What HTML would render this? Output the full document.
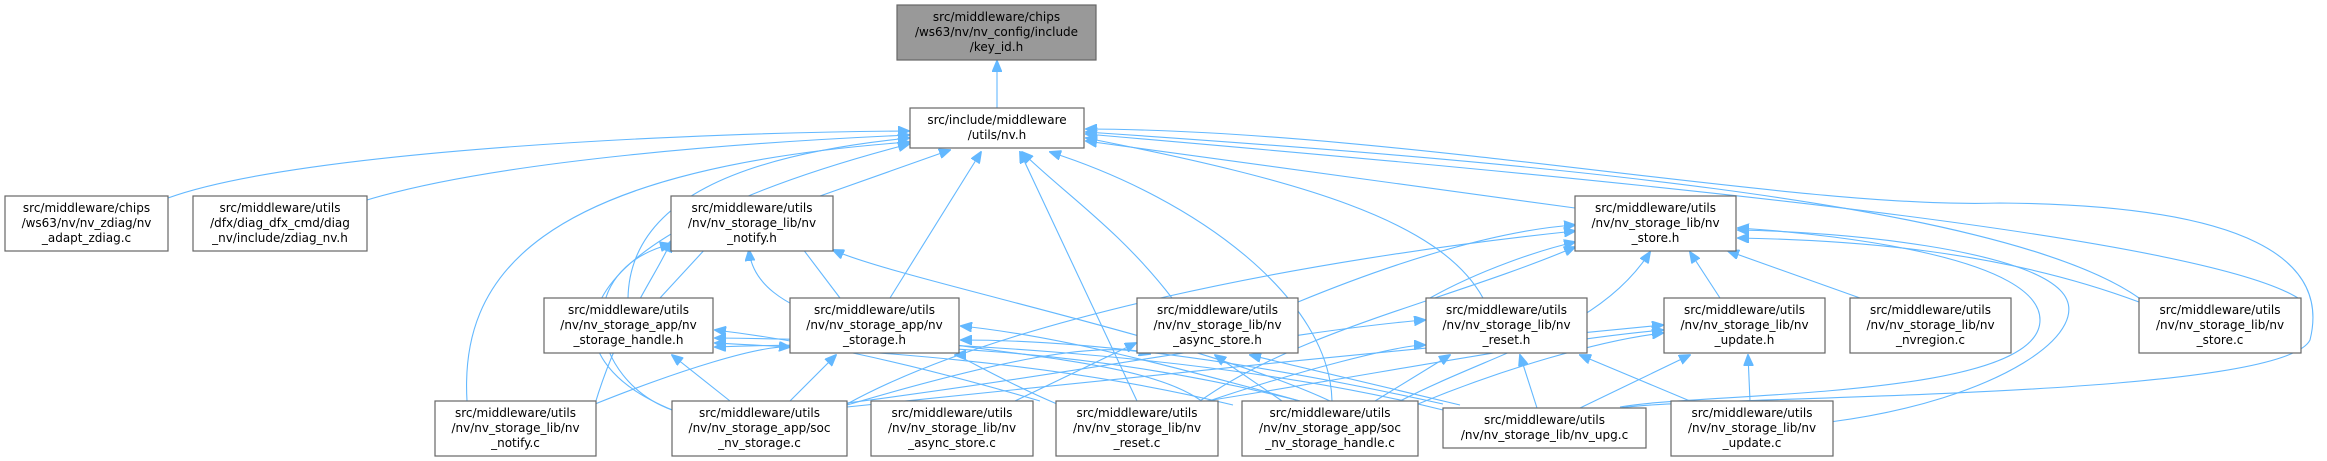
<!DOCTYPE html>
<html><head><meta charset="utf-8"><style>
html,body{margin:0;padding:0;background:#fff}
svg{display:block}
text{font-family:"DejaVu Sans","Liberation Sans",sans-serif;font-size:12px;fill:#000}
.n{fill:#fff;stroke:#666;stroke-width:1.2}
.e{fill:none;stroke:#63b8ff;stroke-width:1.1}
</style></head><body>
<svg width="2327" height="461" viewBox="0 0 2327 461" xmlns="http://www.w3.org/2000/svg">
<defs><marker id="a" markerWidth="12" markerHeight="10" refX="11" refY="5" orient="auto" markerUnits="userSpaceOnUse"><path d="M0,0 L12,5 L0,10 z" fill="#63b8ff" stroke="#63b8ff"/></marker></defs>
<g class="e" marker-end="url(#a)">
<path d="M997,108 L997,61"/>
<path d="M168,198 C300,150 700,132 909,131"/>
<path d="M367,200 C500,160 750,142 909,135"/>
<path d="M820,196 L950,150"/>
<path d="M628,298 C630,200 740,155 909,138"/>
<path d="M890,298 L981,152"/>
<path d="M1172,298 C1120,230 1060,190 1022,152"/>
<path d="M1483,298 C1440,220 1300,180 1086,138"/>
<path d="M1575,208 L1086,141"/>
<path d="M2139,298 C2000,200 1500,160 1086,132"/>
<path d="M1620,408 C1700,395 2280,400 2310,340 C2330,260 2250,205 2000,203 C1800,210 1400,130 1086,129"/>
<path d="M467,401 C460,280 530,170 909,142"/>
<path d="M680,413 C540,360 540,240 909,144"/>
<path d="M1137,401 L1020,152"/>
<path d="M1332,401 C1330,300 1200,200 1050,152"/>
<path d="M2301,300 C2200,230 1500,170 1086,134"/>
<!-- to notify.h -->
<path d="M660,298 L720,233"/>
<path d="M840,298 L790,232"/>
<path d="M595,404 C620,320 660,270 671,241"/>
<path d="M672,410 C590,380 570,270 671,244"/>
<path d="M1210,408 C1130,330 760,370 749,250"/>
<path d="M1330,401 C1200,340 900,280 833,250"/>
<!-- to nv_store.h -->
<path d="M1298,302 C1400,260 1500,230 1575,225"/>
<path d="M1430,298 C1480,270 1540,250 1575,242"/>
<path d="M1720,298 L1690,252"/>
<path d="M1860,298 L1728,251"/>
<path d="M2139,302 C2000,250 1850,240 1738,238"/>
<path d="M847,404 C1000,320 1300,260 1575,231"/>
<path d="M1200,401 C1300,330 1450,300 1575,247"/>
<path d="M1400,401 C1500,350 1600,330 1650,252"/>
<path d="M1620,407 C1700,392 2040,400 2040,320 C2040,260 1850,235 1738,228"/>
<path d="M1830,422 C2000,400 2100,330 2060,290 C2020,250 1850,232 1738,230"/>
<!-- to storage_handle.h -->
<path d="M730,401 L672,355"/>
<path d="M1040,401 C900,360 800,340 715,330"/>
<path d="M1233,405 C1050,360 850,350 715,343"/>
<path d="M1300,401 C1100,350 900,340 715,347"/>
<path d="M1443,410 C1200,350 900,340 715,338"/>
<!-- to nv_storage.h -->
<path d="M595,404 C680,370 760,345 790,347"/>
<path d="M790,401 L836,355"/>
<path d="M1057,404 C1000,380 960,355 955,355"/>
<path d="M1300,401 C1150,360 1050,335 961,326"/>
<path d="M1443,404 C1200,350 1050,340 961,340"/>
<!-- to async_store.h -->
<path d="M847,405 C1000,360 1100,340 1150,354"/>
<path d="M1015,401 L1136,343"/>
<path d="M1282,401 L1215,355"/>
<path d="M1460,405 L1250,355"/>
<!-- to reset.h -->
<path d="M847,403 C1100,370 1300,330 1425,320"/>
<path d="M1200,404 C1300,370 1400,345 1425,345"/>
<path d="M1375,401 L1450,355"/>
<path d="M1537,408 L1520,355"/>
<path d="M1690,401 L1580,355"/>
<!-- to update.h -->
<path d="M847,407 C1100,380 1400,350 1663,325"/>
<path d="M1200,402 C1400,370 1550,340 1663,330"/>
<path d="M1418,404 C1500,370 1600,340 1663,333"/>
<path d="M1580,408 L1690,355"/>
<path d="M1750,401 L1748,355"/>
</g>
<rect x="897" y="5" width="199" height="55" fill="#999" stroke="#666" stroke-width="1.2"/>
<text x="996.5" y="21" text-anchor="middle">src/middleware/chips</text>
<text x="996.5" y="36" text-anchor="middle">/ws63/nv/nv_config/include</text>
<text x="996.5" y="51" text-anchor="middle">/key_id.h</text>
<g>
<rect class="n" x="910" y="108" width="174" height="40"/>
<text x="997" y="124" text-anchor="middle">src/include/middleware</text>
<text x="997" y="139" text-anchor="middle">/utils/nv.h</text>
</g>
<g font-size="12">
<rect class="n" x="5" y="196" width="163" height="55"/><text x="86.5" y="212" text-anchor="middle">src/middleware/chips</text><text x="86.5" y="227" text-anchor="middle">/ws63/nv/nv_zdiag/nv</text><text x="86.5" y="242" text-anchor="middle">_adapt_zdiag.c</text>
<rect class="n" x="193" y="196" width="174" height="55"/><text x="280" y="212" text-anchor="middle">src/middleware/utils</text><text x="280" y="227" text-anchor="middle">/dfx/diag_dfx_cmd/diag</text><text x="280" y="242" text-anchor="middle">_nv/include/zdiag_nv.h</text>
<rect class="n" x="671" y="196" width="162" height="55"/><text x="752" y="212" text-anchor="middle">src/middleware/utils</text><text x="752" y="227" text-anchor="middle">/nv/nv_storage_lib/nv</text><text x="752" y="242" text-anchor="middle">_notify.h</text>
<rect class="n" x="1575" y="196" width="161" height="55"/><text x="1655.5" y="212" text-anchor="middle">src/middleware/utils</text><text x="1655.5" y="227" text-anchor="middle">/nv/nv_storage_lib/nv</text><text x="1655.5" y="242" text-anchor="middle">_store.h</text>

<rect class="n" x="544" y="298" width="169" height="55"/><text x="628.5" y="314" text-anchor="middle">src/middleware/utils</text><text x="628.5" y="329" text-anchor="middle">/nv/nv_storage_app/nv</text><text x="628.5" y="344" text-anchor="middle">_storage_handle.h</text>
<rect class="n" x="790" y="298" width="169" height="55"/><text x="874.5" y="314" text-anchor="middle">src/middleware/utils</text><text x="874.5" y="329" text-anchor="middle">/nv/nv_storage_app/nv</text><text x="874.5" y="344" text-anchor="middle">_storage.h</text>
<rect class="n" x="1137" y="298" width="161" height="55"/><text x="1217.5" y="314" text-anchor="middle">src/middleware/utils</text><text x="1217.5" y="329" text-anchor="middle">/nv/nv_storage_lib/nv</text><text x="1217.5" y="344" text-anchor="middle">_async_store.h</text>
<rect class="n" x="1426" y="298" width="161" height="55"/><text x="1506.5" y="314" text-anchor="middle">src/middleware/utils</text><text x="1506.5" y="329" text-anchor="middle">/nv/nv_storage_lib/nv</text><text x="1506.5" y="344" text-anchor="middle">_reset.h</text>
<rect class="n" x="1664" y="298" width="161" height="55"/><text x="1744.5" y="314" text-anchor="middle">src/middleware/utils</text><text x="1744.5" y="329" text-anchor="middle">/nv/nv_storage_lib/nv</text><text x="1744.5" y="344" text-anchor="middle">_update.h</text>
<rect class="n" x="1850" y="298" width="161" height="55"/><text x="1930.5" y="314" text-anchor="middle">src/middleware/utils</text><text x="1930.5" y="329" text-anchor="middle">/nv/nv_storage_lib/nv</text><text x="1930.5" y="344" text-anchor="middle">_nvregion.c</text>
<rect class="n" x="2139" y="298" width="162" height="55"/><text x="2220" y="314" text-anchor="middle">src/middleware/utils</text><text x="2220" y="329" text-anchor="middle">/nv/nv_storage_lib/nv</text><text x="2220" y="344" text-anchor="middle">_store.c</text>

<rect class="n" x="435" y="401" width="161" height="55"/><text x="515.5" y="417" text-anchor="middle">src/middleware/utils</text><text x="515.5" y="432" text-anchor="middle">/nv/nv_storage_lib/nv</text><text x="515.5" y="447" text-anchor="middle">_notify.c</text>
<rect class="n" x="672" y="401" width="175" height="55"/><text x="759.5" y="417" text-anchor="middle">src/middleware/utils</text><text x="759.5" y="432" text-anchor="middle">/nv/nv_storage_app/soc</text><text x="759.5" y="447" text-anchor="middle">_nv_storage.c</text>
<rect class="n" x="871" y="401" width="162" height="55"/><text x="952" y="417" text-anchor="middle">src/middleware/utils</text><text x="952" y="432" text-anchor="middle">/nv/nv_storage_lib/nv</text><text x="952" y="447" text-anchor="middle">_async_store.c</text>
<rect class="n" x="1056" y="401" width="162" height="55"/><text x="1137" y="417" text-anchor="middle">src/middleware/utils</text><text x="1137" y="432" text-anchor="middle">/nv/nv_storage_lib/nv</text><text x="1137" y="447" text-anchor="middle">_reset.c</text>
<rect class="n" x="1242" y="401" width="176" height="55"/><text x="1330" y="417" text-anchor="middle">src/middleware/utils</text><text x="1330" y="432" text-anchor="middle">/nv/nv_storage_app/soc</text><text x="1330" y="447" text-anchor="middle">_nv_storage_handle.c</text>
<rect class="n" x="1443" y="408" width="203" height="40"/><text x="1544.5" y="424" text-anchor="middle">src/middleware/utils</text><text x="1544.5" y="439" text-anchor="middle">/nv/nv_storage_lib/nv_upg.c</text>
<rect class="n" x="1671" y="401" width="162" height="55"/><text x="1752" y="417" text-anchor="middle">src/middleware/utils</text><text x="1752" y="432" text-anchor="middle">/nv/nv_storage_lib/nv</text><text x="1752" y="447" text-anchor="middle">_update.c</text>
</g>
</svg>
</body></html>
